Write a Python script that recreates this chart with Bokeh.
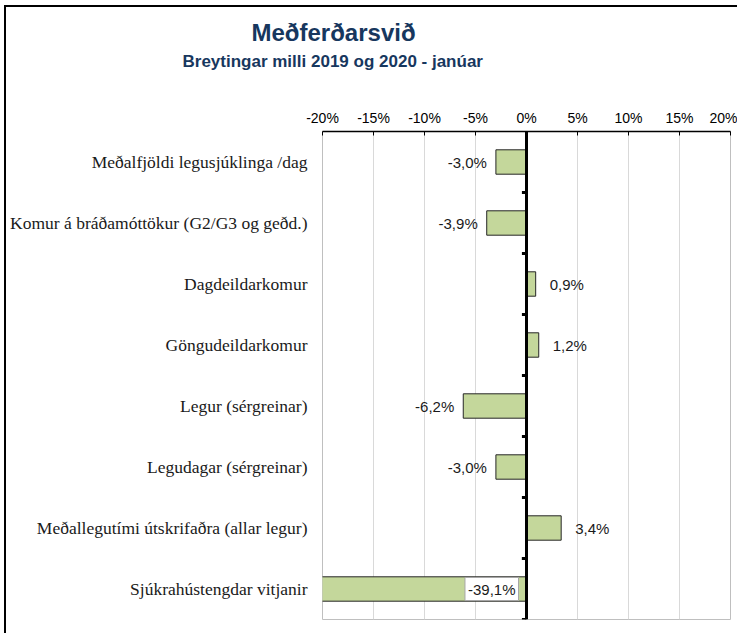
from bokeh.plotting import figure
from bokeh.models import Range1d, FactorRange, FixedTicker, Span, Title, ColumnDataSource
from bokeh.core.properties import value
from bokeh.embed import file_html
from bokeh.resources import INLINE

title = "Meðferðarsvið"
subtitle = "Breytingar milli 2019 og 2020 - janúar"
categories = ["Meðalfjöldi legusjúklinga /dag",
              "Komur á bráðamóttökur (G2/G3 og geðd.)",
              "Dagdeildarkomur",
              "Göngudeildarkomur",
              "Legur (sérgreinar)",
              "Legudagar (sérgreinar)",
              "Meðallegutími útskrifaðra (allar legur)",
              "Sjúkrahústengdar vitjanir"]
values = [-3.0, -3.9, 0.9, 1.2, -6.2, -3.0, 3.4, -39.1]
x_ticks = [-20, -15, -10, -5, 0, 5, 10, 15, 20]
x_tick_labels = ["-20%", "-15%", "-10%", "-5%", "0%", "5%", "10%", "15%", "20%"]

XMIN, XMAX = x_ticks[0], x_ticks[-1]
NAVY = "#17375E"
GREEN = "#C4D79B"

p = figure(width=733, height=628, output_backend="svg", toolbar_location=None,
           x_range=Range1d(XMIN, XMAX), y_range=FactorRange(factors=list(reversed(categories))),
           x_axis_location="above", min_border_left=316, min_border_right=9,
           min_border_top=124, min_border_bottom=16)
p.margin = (5, 0, 0, 4)
p.styles = {"border-left": "2px solid black", "border-top": "2px solid black"}
p.outline_line_color = "#BFBFBF"
p.outline_line_width = 1

# grid
p.xgrid.ticker = FixedTicker(ticks=x_ticks)
p.xgrid.grid_line_color = "#D9D9D9"
p.ygrid.grid_line_color = None

# x axis (top)
xa = p.xaxis[0]
xa.ticker = FixedTicker(ticks=x_ticks)
xa.major_label_overrides = {t: l for t, l in zip(x_ticks, x_tick_labels)}
xa.major_tick_in = 4
xa.major_tick_out = 0
xa.minor_tick_line_color = None
xa.axis_line_color = "black"
xa.axis_line_width = 1.5
xa.major_tick_line_color = "black"
xa.major_label_text_font = "Liberation Sans"
xa.major_label_text_font_size = "14px"
xa.major_label_text_color = "black"
xa.major_label_standoff = 6

# y axis (categories)
ya = p.yaxis[0]
ya.axis_line_color = None
ya.major_tick_line_color = None
ya.minor_tick_line_color = None
ya.major_label_text_font = "Liberation Serif"
ya.major_label_text_font_size = "17.5px"
ya.major_label_text_color = "#1a1a1a"
ya.major_label_standoff = 9

src = ColumnDataSource(dict(cat=categories, val=values))
p.hbar(y="cat", left=0, right="val", height=0.4, source=src,
       fill_color=GREEN, line_color="#262626", line_width=1)

# zero axis with boundary ticks
p.add_layout(Span(location=0, dimension="height", line_color="black", line_width=3))
bounds = [(c, -0.5) for c in categories] + [(categories[-1], 0.5)]
p.segment(x0=[0] * len(bounds), x1=[-0.45] * len(bounds), y0=bounds, y1=bounds,
          line_color="black", line_width=3)

# labels
def fmt(v):
    return ("%.1f%%" % v).replace(".", ",")

neg = [(c, v) for c, v in zip(categories, values) if XMIN <= v < 0]
pos = [(c, v) for c, v in zip(categories, values) if 0 <= v <= XMAX]
clip = [(c, v) for c, v in zip(categories, values) if v < XMIN]

lbl = dict(text_baseline="middle", text_font=value("Liberation Sans"),
           text_font_size="15px", text_color="#1a1a1a")
p.text(x=[v for c, v in neg], y=[c for c, v in neg], text=[fmt(v) for c, v in neg],
       x_offset=-9, text_align="right", **lbl)
p.text(x=[v for c, v in pos], y=[c for c, v in pos], text=[fmt(v) for c, v in pos],
       x_offset=14, text_align="left", **lbl)
p.text(x=[0] * len(clip), y=[c for c, v in clip], text=[fmt(v) for c, v in clip],
       x_offset=-8, text_align="right", background_fill_color="white",
       border_line_color="#A6A6A6", padding=3, **lbl)

# titles (first added sits closest to the axis)
p.add_layout(Title(text=subtitle, align="left", offset=-140, text_font="Liberation Sans",
                   text_font_style="bold", text_font_size="17px", text_color=NAVY,
                   standoff=72), "above")
p.add_layout(Title(text=title, align="left", offset=-71, text_font="Liberation Sans",
                   text_font_style="bold", text_font_size="24px", text_color=NAVY,
                   standoff=-64), "above")

open("out.html", "w").write(file_html(p, INLINE))
